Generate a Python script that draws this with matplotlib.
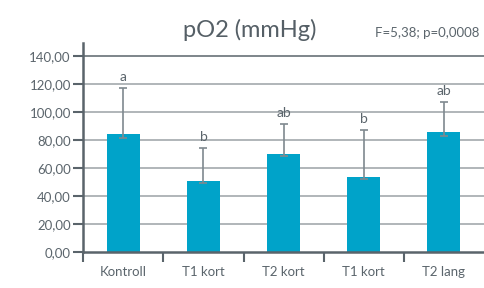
import matplotlib.pyplot as plt
import numpy as np

categories = ["Kontroll", "T1 kort", "T2 kort", "T1 kort", "T2 lang"]
means = [84.2, 50.5, 69.8, 53.3, 85.6]
err_low = [3.0, 1.3, 1.2, 1.4, 2.8]
err_high = [33.2, 23.5, 21.4, 34.0, 21.8]
letters = ["a", "b", "ab", "b", "ab"]
yticks = [0, 20, 40, 60, 80, 100, 120, 140]

bar_color = "#00a3c9"
axis_color = "#5a646b"
grid_color = "#9ba2a6"
text_color = "#5b656c"

plt.rcParams['font.family'] = ['Lato', 'DejaVu Sans']

fig = plt.figure(figsize=(4.84, 2.88), dpi=100)
ax = fig.add_axes([0.172, 0.124, 0.828, 0.726])

x = np.arange(len(categories))

# gridlines
for v in yticks[1:]:
    ax.axhline(v, color=grid_color if v < 140 else axis_color, lw=1.1, zorder=0)

ax.bar(x, means, width=0.41, color=bar_color, zorder=2)
ax.errorbar(x, means, yerr=[err_low, err_high], fmt='none', ecolor="#7f898f",
            elinewidth=1.2, capsize=3, capthick=1.2, zorder=3)

for i in range(len(x)):
    ax.text(x[i], means[i] + err_high[i] + 5, letters[i], ha='center', va='baseline',
            fontsize=10, color=text_color)

ax.set_xlim(-0.5, 4.5)
ax.set_ylim(0, 149)

ax.set_yticks(yticks)
ax.set_yticklabels([("%.2f" % v).replace(".", ",") for v in yticks])
ax.tick_params(axis='y', length=7, width=1.5, color=axis_color, pad=2,
               labelsize=9.5, labelcolor=text_color)

# boundary ticks (major) and category labels (minor)
ax.set_xticks([-0.5, 0.5, 1.5, 2.5, 3.5])
ax.set_xticklabels([])
ax.tick_params(axis='x', which='major', length=7, width=1.5, color=axis_color)
ax.set_xticks(x, minor=True)
ax.set_xticklabels(categories, minor=True)
ax.tick_params(axis='x', which='minor', length=0, pad=10, labelsize=9.5,
               labelcolor=text_color)

for s in ['top', 'right']:
    ax.spines[s].set_visible(False)
for s in ['left', 'bottom']:
    ax.spines[s].set_color(axis_color)
    ax.spines[s].set_linewidth(1.8)

fig.text(0.515, 0.895, "pO2 (mmHg)", ha='center', va='center', fontsize=17,
         color="#555f66")
fig.text(0.99, 0.885, "F=5,38; p=0,0008", ha='right', va='center', fontsize=9.5,
         color=text_color)

fig.savefig("out.png", dpi=100)
